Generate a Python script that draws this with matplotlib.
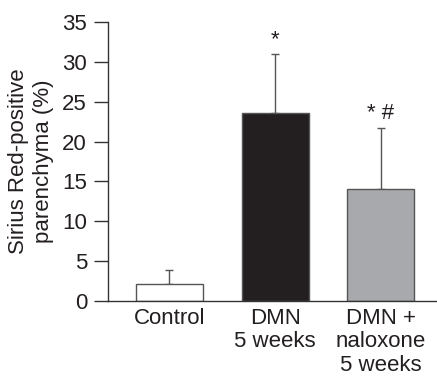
import matplotlib
matplotlib.use('Agg')
import matplotlib.pyplot as plt

plt.rcParams['font.family'] = ['Liberation Sans', 'DejaVu Sans']

groups = ['Control', 'DMN\n5 weeks', 'DMN +\nnaloxone\n5 weeks']
means = [2.1, 23.6, 14.1]
sd_upper = [1.8, 7.4, 7.6]
bar_colors = ['white', '#231f20', '#a7a9ac']
marks = ['', '*', '* #']

fig = plt.figure(figsize=(4.37, 3.76), dpi=100)
ax = fig.add_axes([0.247, 0.1995, 0.753, 0.742])

xs = list(range(len(groups)))
ax.bar(xs, means, width=0.634, color=bar_colors, edgecolor='#555555',
       linewidth=1.0, zorder=2)
ax.errorbar(xs, means, yerr=[[0] * len(means), sd_upper], fmt='none',
            ecolor='#555555', elinewidth=1.0, capsize=3, capthick=1.0, zorder=1)

# significance marks above the error bars
for x, m, e, s in zip(xs, means, sd_upper, marks):
    if s:
        ax.text(x, m + e + 1.1, s, ha='center', va='baseline', fontsize=16,
                color='#231f20')

ax.set_xlim(-0.58, 2.53)
ax.set_ylim(0, 35)
ax.set_yticks(range(0, 36, 5))
ax.set_xticks(xs)
ax.set_xticklabels(groups, fontsize=16, color='#231f20', linespacing=1.15)
ax.tick_params(axis='x', length=0, pad=5)
ax.tick_params(axis='y', length=10, width=1.0, color='#333333',
               labelsize=16, labelcolor='#231f20', pad=5)

for side in ['top', 'right']:
    ax.spines[side].set_visible(False)
for side in ['left', 'bottom']:
    ax.spines[side].set_color('#333333')
    ax.spines[side].set_linewidth(1.0)

ax.set_ylabel('Sirius Red-positive\nparenchyma (%)', fontsize=16,
              color='#231f20', linespacing=1.25, labelpad=6)

fig.savefig('out.png', dpi=100)
